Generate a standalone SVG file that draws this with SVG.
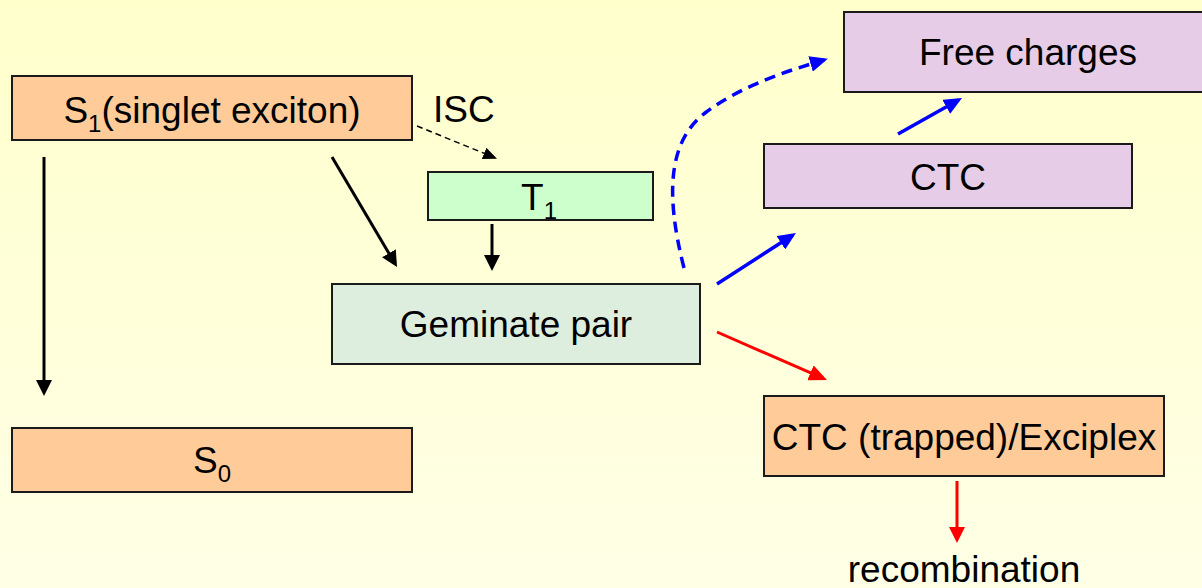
<svg xmlns="http://www.w3.org/2000/svg" width="1202" height="588" viewBox="0 0 1202 588">
<defs>
<linearGradient id="bg" x1="0" y1="0" x2="0" y2="1">
<stop offset="0" stop-color="#FFFFCC"/>
<stop offset="1" stop-color="#FFFFE6"/>
</linearGradient>
<marker id="hk" markerUnits="userSpaceOnUse" markerWidth="16" markerHeight="16" refX="12" refY="8" orient="auto"><path d="M0,0 L16,8 L0,16 z" fill="#000"/></marker>
<marker id="hks" markerUnits="userSpaceOnUse" markerWidth="14" markerHeight="12" refX="11" refY="6" orient="auto"><path d="M0,0 L14,6 L0,12 z" fill="#000"/></marker>
<marker id="hb" markerUnits="userSpaceOnUse" markerWidth="18" markerHeight="16" refX="14" refY="8" orient="auto"><path d="M0,0 L18,8 L0,16 z" fill="#0000FF"/></marker>
<marker id="hr" markerUnits="userSpaceOnUse" markerWidth="18" markerHeight="16" refX="14" refY="8" orient="auto"><path d="M0,0 L18,8 L0,16 z" fill="#FF0000"/></marker>
<marker id="hr2" markerUnits="userSpaceOnUse" markerWidth="16" markerHeight="16" refX="12" refY="8" orient="auto"><path d="M0,0 L16,8 L0,16 z" fill="#FF0000"/></marker>
</defs>
<style>
.box{stroke:#1a1a1a;stroke-width:2}
.peach{fill:#FFCC99}
.green{fill:#CCFFCC}
.gem{fill:#DDEEDF}
.lav{fill:#E6CCE6}
text{font-family:"Liberation Sans",Arial,sans-serif;font-size:37px;fill:#000}
.sub{font-size:24px}
.k{stroke:#000;stroke-width:3;fill:none}
.kd{stroke:#000;stroke-width:1.5;fill:none;stroke-dasharray:6,4}
.b{stroke:#0000FF;stroke-width:3.5;fill:none}
.bd{stroke:#0000FF;stroke-width:3.5;fill:none;stroke-dasharray:11,7}
.r{stroke:#FF0000;stroke-width:3;fill:none}
</style>
<rect width="1202" height="588" fill="url(#bg)"/>
<g id="connectors">
<line class="k" x1="44" y1="157" x2="44" y2="392" marker-end="url(#hk)"/>
<line class="k" x1="332" y1="157" x2="395" y2="263.6" marker-end="url(#hk)"/>
<line class="k" x1="492" y1="224" x2="492" y2="267" marker-end="url(#hk)"/>
<line class="kd" x1="417" y1="126" x2="494.3" y2="157.5" marker-end="url(#hks)"/>
<line class="b" x1="717" y1="284" x2="792.6" y2="235.2" marker-end="url(#hb)"/>
<line class="r" x1="717" y1="332" x2="823.3" y2="378.4" marker-end="url(#hr)"/>
<line class="b" x1="898" y1="134" x2="958.5" y2="100" marker-end="url(#hb)"/>
<line class="r" x1="957" y1="481" x2="957" y2="539" marker-end="url(#hr2)"/>
<path class="bd" d="M684,268 C664,190 670,140 705,113 S790,70 824,60" marker-end="url(#hb)"/>
</g>
<g id="s1">
<rect class="box peach" x="12" y="76" width="400" height="64"/>
<text x="212" y="123" text-anchor="middle">S<tspan class="sub" dy="9">1</tspan><tspan dy="-9">(singlet exciton)</tspan></text>
</g>
<g id="isc">
<text x="433" y="122">ISC</text>
</g>
<g id="t1">
<rect class="box green" x="428" y="172" width="225" height="48"/>
<text x="539" y="210" text-anchor="middle">T<tspan class="sub" dy="9">1</tspan></text>
</g>
<g id="geminate">
<rect class="box gem" x="332" y="284" width="368" height="80"/>
<text x="516" y="337" text-anchor="middle">Geminate pair</text>
</g>
<g id="s0">
<rect class="box peach" x="12" y="428" width="400" height="64"/>
<text x="212" y="473" text-anchor="middle">S<tspan class="sub" dy="9">0</tspan></text>
</g>
<g id="free">
<rect class="box lav" x="844" y="12" width="368" height="80"/>
<text x="1028" y="65" text-anchor="middle">Free charges</text>
</g>
<g id="ctc">
<rect class="box lav" x="764" y="144" width="368" height="64"/>
<text x="948" y="190" text-anchor="middle">CTC</text>
</g>
<g id="trapped">
<rect class="box peach" x="764" y="396" width="400" height="80"/>
<text x="964" y="450" text-anchor="middle">CTC (trapped)/Exciplex</text>
</g>
<g id="recomb">
<text x="964" y="582" text-anchor="middle">recombination</text>
</g>
</svg>
